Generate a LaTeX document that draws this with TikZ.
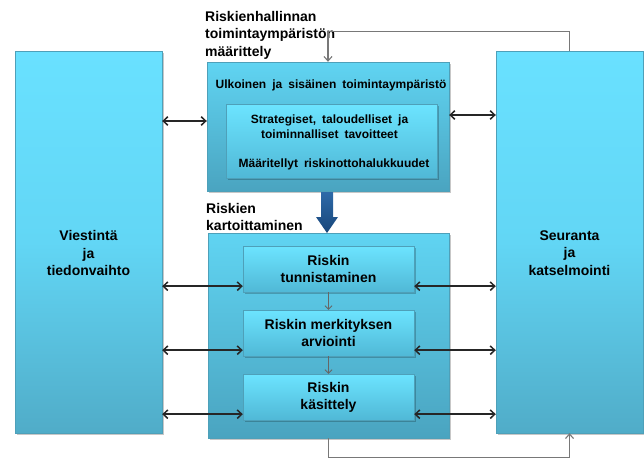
\documentclass[tikz,border=0pt]{standalone}
\usepackage{fontspec}
\setmainfont{Liberation Sans}
\usetikzlibrary{arrows.meta,shadows,calc}
\definecolor{sideTop}{RGB}{105,225,255}
\definecolor{sideMid}{RGB}{98,214,245}
\definecolor{sideBot}{RGB}{80,172,200}
\definecolor{midTop}{RGB}{96,212,242}
\definecolor{midBot}{RGB}{74,164,192}
\definecolor{subTop}{RGB}{108,228,255}
\definecolor{subBot}{RGB}{80,184,214}
\definecolor{edgeC}{RGB}{78,160,185}
\definecolor{darkArrowTop}{RGB}{46,106,168}
\definecolor{darkArrowBot}{RGB}{24,70,122}
\definecolor{fbGray}{RGB}{120,120,120}
\newcommand\widewordspace{\spaceskip=6pt plus 1pt minus 1pt\relax}
\tikzset{
  shadowed/.style={drop shadow={shadow xshift=1.5pt,shadow yshift=-1.5pt,fill=black,opacity=0.22}},
  sidebox/.style={shadowed,draw=edgeC,line width=0.4pt,top color=sideTop,bottom color=sideBot,middle color=sideMid,inner sep=0pt},
  midbox/.style={shadowed,draw=edgeC,line width=0.4pt,top color=midTop,bottom color=midBot,inner sep=0pt},
  subbox/.style={shadowed,draw=edgeC,line width=0.4pt,top color=subTop,bottom color=subBot,inner sep=0pt,align=center,
    font=\fontsize{14}{17}\selectfont\bfseries},
  bigtxt/.style={inner sep=0pt,font=\fontsize{14}{17.5}\selectfont\bfseries},
  smalltxt/.style={inner sep=0pt,font=\fontsize{12}{15}\selectfont\bfseries\widewordspace},
  dbl/.style={draw=black!85,line width=1.5pt,{Straight Barb[length=4.5pt,width=8.5pt]}-{Straight Barb[length=4.5pt,width=8.5pt]}},
  thin/.style={draw=black!60,line width=0.8pt,-{Straight Barb[length=3.5pt,width=7pt]}},
  fb/.style={draw=fbGray,line width=1.1pt,-{Straight Barb[length=4.5pt,width=8pt]}}
}
\begin{document}
\begin{tikzpicture}[x=1pt,y=-1pt]
\useasboundingbox (0,0) rectangle (644,458);
% side boxes
\node[sidebox,minimum width=147pt,minimum height=382pt] (left) at (88.5,242) {};
\node[sidebox,minimum width=147pt,minimum height=382pt] (right) at (569.5,242) {};
\node[bigtxt,align=center] (lefttxt) at (88.5,253) {Viestintä\\ja\\tiedonvaihto};
\node[bigtxt,align=center] (righttxt) at (569.5,253) {Seuranta\\ja\\katselmointi};
% top middle box
\node[midbox,minimum width=242pt,minimum height=129pt] (top) at (328,126.5) {};
\node[smalltxt,anchor=base] (outer) at (331,88) {Ulkoinen ja sisäinen toimintaympäristö};
\node[subbox,minimum width=211pt,minimum height=74pt] (inner) at (331.5,141) {};
\node[smalltxt,anchor=base] (goals) at (329.5,123) {Strategiset, taloudelliset ja};
\node[smalltxt,anchor=base] (goals2) at (329.5,138) {toiminnalliset tavoitteet};
\node[smalltxt,anchor=base] (appetite) at (334,167) {Määritellyt riskinottohalukkuudet};
% bottom middle box
\node[midbox,minimum width=241pt,minimum height=205pt] (bottom) at (328.5,335.5) {};
\node[subbox,minimum width=171pt,minimum height=46pt] (sub1) at (328.5,269) {Riskin\\tunnistaminen};
\node[subbox,minimum width=171pt,minimum height=46pt] (sub2) at (328.5,333) {Riskin merkityksen\\arviointi};
\node[subbox,minimum width=171pt,minimum height=46pt] (sub3) at (328.5,397) {Riskin\\käsittely};
% headings
\node[bigtxt,align=left,anchor=north west] (title) at (205,11) {Riskienhallinnan\\toimintaympäristön\\määrittely};
\node[bigtxt,align=left,anchor=north west] (mapping) at (206,203) {Riskien\\kartoittaminen};
% big arrow
\shade[top color=darkArrowTop,bottom color=darkArrowBot]
  (321,192) -- (333,192) -- (333,217) -- (338,217) -- (327,233) -- (316,217) -- (321,217) -- cycle;
% thin arrows between steps
\draw[thin] (sub1.south) -- (sub2.north);
\draw[thin] (sub2.south) -- (sub3.north);
% double arrows
\coordinate (ltop) at (0,121);
\coordinate (rtop) at (0,115);
\draw[dbl] (left.east |- ltop) -- (top.west |- ltop);
\draw[dbl] (top.east |- rtop) -- (right.west |- rtop);
\foreach \s in {sub1,sub2,sub3}{
  \coordinate (\s L) at ($(\s.south west)+(0,-6)$);
  \coordinate (\s R) at ($(\s.south east)+(0,-6)$);
  \draw[dbl] (left.east |- \s L) -- (\s L);
  \draw[dbl] (\s R) -- (right.west |- \s R);
}
% feedback lines
\draw[fb] (right.north) -- ++(0,-19) -| (top.north);
\draw[fb] (bottom.south) -- ++(0,19) -| (right.south);
\end{tikzpicture}
\end{document}
